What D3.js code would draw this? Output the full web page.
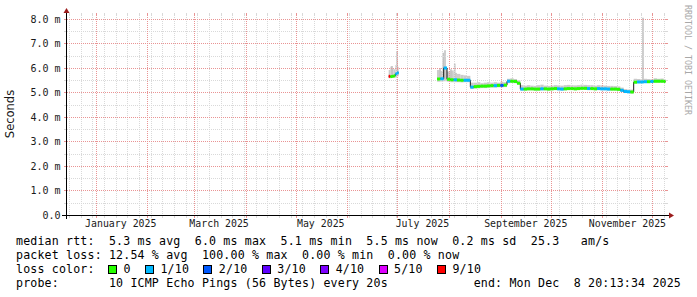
<!DOCTYPE html>
<html>
<head>
<meta charset="utf-8">
<script src="https://cdn.jsdelivr.net/npm/d3@7"></script>
<style>
  body { margin: 0; background: #fff; }
  text { font-family: "DejaVu Sans Mono", monospace; }
</style>
</head>
<body>
<div id="chart"></div>
<script>
// time range of the graph (360 days ending at the "end:" stamp)
const graphStart = "2024-12-13T20:13:34Z";
const graphEnd = "2025-12-08T20:13:34Z";

const yTicks = [0, 1, 2, 3, 4, 5, 6, 7, 8];
const yTickLabels = ["0.0", "1.0 m", "2.0 m", "3.0 m", "4.0 m", "5.0 m", "6.0 m", "7.0 m", "8.0 m"];
const yMinor = [0.5, 1.5, 2.5, 3.5, 4.5, 5.5, 6.5, 7.5];

const monthLabelDates = ["2025-01-01", "2025-03-01", "2025-05-01", "2025-07-01", "2025-09-01", "2025-11-01"];
const monthLabels = ["January 2025", "March 2025", "May 2025", "July 2025", "September 2025", "November 2025"];

const lossColors = ["#26ff00", "#00b8ff", "#0059ff", "#5e00ff", "#7e00ff", "#dd00ff", "#ff0000"];
const lossLabels = ["0", "1/10", "2/10", "3/10", "4/10", "5/10", "9/10"];

// segment A: end of June, one sample per day (ms)
const segAStart = "2025-06-25T18:00:00Z", segAStepHours = 24;
const medianA = [5.66, 5.65, 5.66, 5.68, 5.76, 5.80];
const hiA = [5.92, 6.06, 5.98, 5.95, 6.12, 6.05];
const loA = [5.58, 5.60, 5.60, 5.60, 5.62, 5.66];
const lossA = [6, 0, 0, 0, 1, 1];

// segment B: late July to the end, one sample per two days (ms)
const segBStart = "2025-07-24T18:00:00Z", segBStepHours = 48;
const medianB = [5.55, 5.56, 6.00, 5.54, 5.52, 5.52, 5.51, 5.50, 5.50, 5.50,
  5.22, 5.24, 5.25, 5.26, 5.26, 5.27, 5.28, 5.28, 5.29, 5.29, 5.30,
  5.46, 5.46, 5.45, 5.38,
  5.14, 5.14, 5.15, 5.15, 5.14, 5.14, 5.15, 5.15, 5.14, 5.15,
  5.16, 5.15, 5.14, 5.15, 5.16, 5.16, 5.15, 5.16, 5.17, 5.17,
  5.16, 5.16, 5.15, 5.16, 5.15, 5.15, 5.14, 5.14, 5.14, 5.13,
  5.09, 5.04, 5.03, 5.02,
  5.42, 5.43, 5.43, 5.44, 5.44, 5.45, 5.46, 5.46, 5.46, 5.45];
const hiB = [5.92, 5.88, 6.02, 5.86, 5.90, 5.80, 5.76, 5.72, 5.70, 5.68,
  5.40, 5.40, 5.42, 5.38, 5.40, 5.42, 5.40, 5.42, 5.40, 5.44, 5.42,
  5.56, 5.58, 5.55, 5.50,
  5.30, 5.28, 5.30, 5.28, 5.27, 5.30, 5.32, 5.28, 5.27, 5.28,
  5.30, 5.29, 5.28, 5.30, 5.31, 5.30, 5.29, 5.30, 5.32, 5.31,
  5.30, 5.30, 5.28, 5.30, 5.29, 5.28, 5.27, 5.27, 5.26, 5.25,
  5.20, 5.14, 5.12, 5.12,
  5.56, 5.55, 5.54, 5.56, 5.55, 5.54, 5.58, 5.56, 5.57, 5.55];
const loB = [5.44, 5.45, 5.46, 5.44, 5.42, 5.42, 5.42, 5.41, 5.42, 5.42,
  5.14, 5.16, 5.17, 5.18, 5.18, 5.19, 5.20, 5.20, 5.21, 5.21, 5.22,
  5.38, 5.39, 5.38, 5.32,
  5.08, 5.08, 5.09, 5.09, 5.08, 5.08, 5.09, 5.09, 5.08, 5.09,
  5.10, 5.09, 5.08, 5.09, 5.10, 5.10, 5.09, 5.10, 5.11, 5.11,
  5.10, 5.10, 5.09, 5.10, 5.09, 5.09, 5.08, 5.08, 5.08, 5.07,
  5.02, 4.98, 4.97, 4.96,
  5.37, 5.38, 5.38, 5.39, 5.39, 5.40, 5.40, 5.40, 5.40, 5.40];
const lossB = [0, 1, 1, 0, 0, 1, 0, 0, 1, 1,
  1, 0, 0, 0, 0, 0, 0, 1, 0, 2, 0,
  1, 0, 0, 0,
  1, 0, 0, 0, 0, 0, 1, 0, 0, 0,
  0, 1, 1, 0, 0, 0, 0, 0, 0, 0,
  1, 0, 0, 1, 1, 1, 1, 0, 0, 0,
  1, 1, 1, 0,
  0, 1, 1, 1, 0, 1, 0, 0, 0, 0];

// single slow pings sticking out of the smoke
const spikeDates = ["2025-06-27T18:00:00Z", "2025-06-30T18:00:00Z", "2025-07-26T13:00:00Z", "2025-07-28T13:00:00Z",
  "2025-07-29T13:00:00Z", "2025-08-02T03:00:00Z", "2025-08-04T09:00:00Z", "2025-11-25T08:00:00Z"];
const spikeTops = [6.08, 6.65, 6.00, 6.62, 6.72, 5.95, 6.18, 8.05];

const statRows = [
  "median rtt:  5.3 ms avg  6.0 ms max  5.1 ms min  5.5 ms now  0.2 ms sd  25.3   am/s",
  "packet loss: 12.54 % avg  100.00 % max  0.00 % min  0.00 % now"
];
const probeText = "probe:       10 ICMP Echo Pings (56 Bytes) every 20s";
const endText = "end: Mon Dec  8 20:13:34 2025";

const W = 697, H = 297;
const svg = d3.select("#chart").append("svg")
  .attr("width", W).attr("height", H)
  .style("display", "block");

const t0 = new Date(graphStart), t1 = new Date(graphEnd);
const x = d3.scaleUtc().domain([t0, t1]).range([65.5, 665.5]);
const y = d3.scaleLinear().domain([0, 8.163]).range([215, 15]);
const px = v => Math.round(v) + 0.5;

// build sample table from the arrays
function samples(start, step, med, hi, lo, loss) {
  const s = new Date(start);
  return med.map((m, i) => {
    let a = d3.utcHour.offset(s, i * step), b = d3.utcHour.offset(s, (i + 1) * step);
    if (b > t1) b = t1;
    return { a, b, m, hi: hi[i], lo: lo[i], loss: loss[i] };
  });
}
const segs = [
  samples(segAStart, segAStepHours, medianA, hiA, loA, lossA),
  samples(segBStart, segBStepHours, medianB, hiB, loB, lossB)
];
const all = segs.flat();

const plot = svg.append("g");

// smoke
plot.selectAll(".smoke").data(all).join("rect")
  .attr("x", d => x(d.a)).attr("width", d => x(d.b) - x(d.a))
  .attr("y", d => y(d.hi)).attr("height", d => y(d.lo) - y(d.hi))
  .attr("fill", "#cbcbcb");

// spikes
const spikes = spikeDates.map((s, i) => {
  const t = new Date(s);
  const host = all.find(d => d.a <= t && t < d.b);
  return { t, top: spikeTops[i], base: host ? host.m : spikeTops[i] };
});
plot.selectAll(".spike").data(spikes).join("line")
  .attr("x1", d => x(d.t)).attr("x2", d => x(d.t))
  .attr("y1", d => y(d.top)).attr("y2", d => y(d.base))
  .attr("stroke", "#c2c2c2").attr("stroke-width", 1.6);

// grid
const grid = svg.append("g").attr("shape-rendering", "crispEdges");
const minorCol = "#d9d9d9", majorCol = "#e99494";
const weeks = d3.utcMonday.range(t0, t1);
const months = d3.utcMonth.range(t0, t1);

function vGrid(dates, col) {
  dates.forEach(d => {
    const xx = px(x(d));
    grid.append("line").attr("x1", xx).attr("x2", xx).attr("y1", 15).attr("y2", 215)
      .attr("stroke", col).attr("stroke-dasharray", "1,1");
    grid.append("line").attr("x1", xx).attr("x2", xx).attr("y1", 13).attr("y2", 15).attr("stroke", col);
    grid.append("line").attr("x1", xx).attr("x2", xx).attr("y1", 216).attr("y2", 218).attr("stroke", col);
  });
}
function hGrid(vals, col) {
  vals.forEach(v => {
    const yy = px(y(v));
    grid.append("line").attr("x1", 67).attr("x2", 666).attr("y1", yy).attr("y2", yy)
      .attr("stroke", col).attr("stroke-dasharray", "1,1");
    grid.append("line").attr("x1", 64).attr("x2", 66).attr("y1", yy).attr("y2", yy).attr("stroke", col);
    grid.append("line").attr("x1", 666).attr("x2", 668).attr("y1", yy).attr("y2", yy).attr("stroke", col);
  });
}
vGrid(weeks, minorCol);
hGrid(yMinor, minorCol);
vGrid(months, majorCol);
hGrid(yTicks.slice(1), majorCol);

// median: thin dark step line, then loss coloured strokes
const stepLine = d3.line().x(d => x(d[0])).y(d => y(d[1])).curve(d3.curveStepAfter);
segs.forEach(seg => {
  const pts = seg.map(d => [d.a, d.m]);
  pts.push([seg[seg.length - 1].b, seg[seg.length - 1].m]);
  svg.append("path").attr("d", stepLine(pts))
    .attr("fill", "none").attr("stroke", "#1a1a1a").attr("stroke-width", 1);
});
svg.selectAll(".med").data(all).join("rect")
  .attr("x", d => x(d.a)).attr("width", d => x(d.b) - x(d.a))
  .attr("y", d => y(d.m) - 1.5).attr("height", 3)
  .attr("fill", d => lossColors[d.loss]);

// axes
const axes = svg.append("g").attr("shape-rendering", "crispEdges");
axes.append("line").attr("x1", 62).attr("x2", 670).attr("y1", 215.5).attr("y2", 215.5).attr("stroke", "#000");
axes.append("line").attr("x1", 66.5).attr("x2", 66.5).attr("y1", 219).attr("y2", 12).attr("stroke", "#000");
svg.append("path").attr("d", "M669,212.5L674,215.5L669,218.5Z").attr("fill", "#9b1c1c");
svg.append("path").attr("d", "M63.5,13L66.5,8L69.5,13Z").attr("fill", "#9b1c1c");

// y labels
svg.selectAll(".yl").data(yTicks).join("text")
  .attr("x", 60.5).attr("y", d => y(d)).attr("dy", "0.36em")
  .attr("text-anchor", "end").attr("font-size", 10).attr("fill", "#1a1a1a")
  .text((d, i) => yTickLabels[i]);

// x labels, centred half a month after the label date
svg.selectAll(".xl").data(monthLabelDates).join("text")
  .attr("x", d => x(d3.utcDay.offset(new Date(d), 15)))
  .attr("y", 227).attr("text-anchor", "middle").attr("font-size", 9.9).attr("fill", "#1a1a1a")
  .text((d, i) => monthLabels[i]);

svg.append("text").attr("transform", "translate(14,114) rotate(-90)")
  .attr("text-anchor", "middle").style("font-family", "DejaVu Sans")
  .attr("font-size", 11.5).attr("fill", "#1a1a1a").text("Seconds");

svg.append("text").attr("transform", "translate(684.5,5) rotate(90)")
  .attr("font-size", 8.3).attr("fill", "#a8a8a8").text("RRDTOOL / TOBI OETIKER");

// legend
const legend = svg.append("g").attr("font-size", 11.6).attr("letter-spacing", 0.17).attr("fill", "#000");
const rowY = [244.5, 258.5, 272.5, 286.5];
statRows.forEach((s, i) => {
  legend.append("text").attr("x", 16).attr("y", rowY[i]).style("white-space", "pre").text(s);
});
legend.append("text").attr("x", 16).attr("y", rowY[2]).style("white-space", "pre").text("loss color:");
let cx = 108.5;
lossLabels.forEach((lab, i) => {
  legend.append("rect").attr("x", cx).attr("y", 265.5).attr("width", 8).attr("height", 8)
    .attr("fill", lossColors[i]).attr("stroke", "#000").attr("stroke-width", 1)
    .attr("shape-rendering", "crispEdges");
  legend.append("text").attr("x", cx + 15).attr("y", rowY[2]).text(lab);
  cx += 15 + lab.length * 7.15 + 14.8;
});
legend.append("text").attr("x", 16).attr("y", rowY[3]).style("white-space", "pre").text(probeText);
legend.append("text").attr("x", 681).attr("y", rowY[3]).attr("text-anchor", "end")
  .style("white-space", "pre").text(endText);
</script>
</body>
</html>
